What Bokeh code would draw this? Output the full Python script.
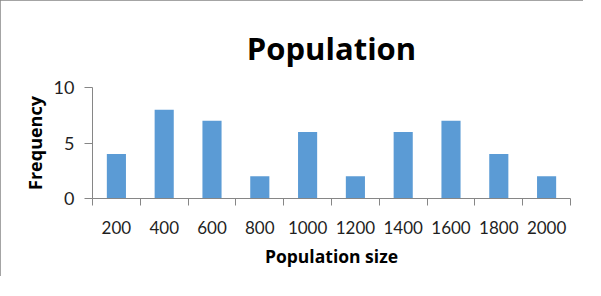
from bokeh.plotting import figure
from bokeh.models import FixedTicker, ColumnDataSource, Range1d, Title
from bokeh.embed import file_html
from bokeh.resources import INLINE

categories = ["200", "400", "600", "800", "1000", "1200", "1400", "1600", "1800", "2000"]
frequency = [4, 8, 7, 2, 6, 2, 6, 7, 4, 2]
y_ticks = [0, 5, 10]
title_text = "Population"

Y_MAX = 10
centers = [i + 0.5 for i in range(len(categories))]
bounds = [i for i in range(len(categories) + 1)]

src = ColumnDataSource(dict(x=centers, top=frequency, label=categories))

p = figure(width=583, height=276, output_backend="svg", toolbar_location=None,
           x_range=Range1d(0, len(categories)), y_range=Range1d(0, Y_MAX),
           min_border_left=92, min_border_right=13, min_border_top=87, min_border_bottom=78)
p.styles = {"outline": "1px solid #868686", "outline-offset": "-1px"}

p.vbar(x="x", top="top", width=0.4, bottom=0, source=src, color="#5B9BD5", line_color=None)

TICK_FONT = "Lato"
LABEL_FONT = "Open Sans"

p.title = Title(text=title_text, align="center", text_font=LABEL_FONT, text_font_size="31px",
                text_font_style="bold", text_color="black")
p.title.standoff = 38

p.xgrid.visible = False
p.ygrid.visible = False
p.outline_line_color = None

xa = p.xaxis[0]
xa.ticker = FixedTicker(ticks=centers, minor_ticks=bounds)
xa.major_label_overrides = {c: l for c, l in zip(centers, categories)}
xa.major_tick_line_color = None
xa.major_tick_out = 0
xa.major_tick_in = 0
xa.minor_tick_line_color = "#868686"
xa.minor_tick_out = 7
xa.minor_tick_in = 0
xa.axis_line_color = "#868686"
xa.major_label_standoff = 15
xa.major_label_text_font = TICK_FONT
xa.major_label_text_font_size = "17px"
xa.major_label_text_color = "#1f1f1f"
xa.axis_label = "Population size"
xa.axis_label_text_font = LABEL_FONT
xa.axis_label_text_font_size = "17.5px"
xa.axis_label_text_font_style = "bold"
xa.axis_label_text_color = "black"
xa.axis_label_standoff = 7

ya = p.yaxis[0]
ya.ticker = FixedTicker(ticks=y_ticks, minor_ticks=[])
ya.major_tick_line_color = "#868686"
ya.major_tick_out = 8
ya.major_tick_in = 0
ya.minor_tick_line_color = None
ya.axis_line_color = "#868686"
ya.major_label_standoff = 10
ya.major_label_text_font = TICK_FONT
ya.major_label_text_font_size = "18px"
ya.major_label_text_color = "#1f1f1f"
ya.axis_label = "Frequency"
ya.axis_label_text_font = LABEL_FONT
ya.axis_label_text_font_size = "18px"
ya.axis_label_text_font_style = "bold"
ya.axis_label_text_color = "black"
ya.axis_label_standoff = 4

open("out.html", "w").write(file_html(p, INLINE))
